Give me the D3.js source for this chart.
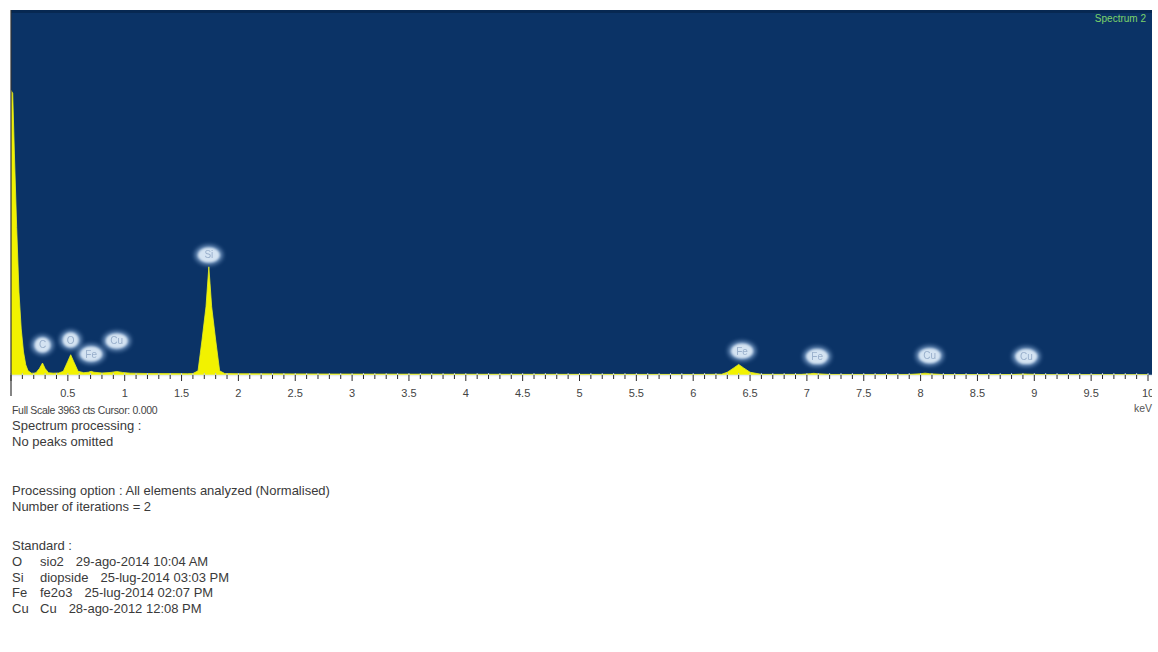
<!DOCTYPE html>
<html><head><meta charset="utf-8">
<script src="https://cdn.jsdelivr.net/npm/d3@7"></script>
<style>
html,body{margin:0;padding:0;background:#fff;}
svg{display:block;}
</style></head>
<body>
<script>
// ---------- DATA ----------
const fullScale = 3963;
const spectrumEnergy = [0.000,0.015,0.030,0.050,0.070,0.090,0.110,0.130,0.150,0.180,0.200,
  0.220,0.250,0.277,0.300,0.330,0.370,0.420,
  0.460,0.500,0.525,0.550,0.590,0.640,
  0.680,0.705,0.730,0.800,
  0.880,0.930,0.980,1.050,1.200,1.400,1.550,
  1.600,1.645,1.680,1.715,1.740,1.765,1.800,1.835,1.880,
  2.000,2.500,3.000,4.000,5.000,6.000,6.250,
  6.300,6.360,6.400,6.440,6.500,6.600,6.950,
  7.030,7.060,7.090,7.200,7.900,
  8.000,8.040,8.080,8.200,8.800,
  8.880,8.910,8.940,9.100,10.000];
const spectrumCounts = [3090,3060,2400,1600,900,500,250,110,45,20,20,
  25,70,130,70,25,20,22,
  40,150,220,150,40,25,
  30,40,30,22,
  28,38,28,20,16,15,14,
  16,45,380,740,1175,740,380,45,16,
  14,12,10,8,7,6,8,
  30,80,115,80,30,7,7,
  14,18,14,6,6,
  14,20,14,5,5,
  9,11,9,4,3];

const peakLabels   = ["C","O","Fe","Cu","Si","Fe","Fe","Cu","Cu"];
const peakEnergies = [0.277,0.525,0.705,0.930,1.740,6.430,7.090,8.080,8.930];
const peakTops     = [130,220,40,38,1175,115,18,20,11];
const labelLevels  = [326,380,228,370,1303,260,200,210,200];

const tickLabels = ["0.5","1","1.5","2","2.5","3","3.5","4","4.5","5","5.5","6","6.5","7","7.5","8","8.5","9","9.5","10"];
const tickValues = [0.5,1,1.5,2,2.5,3,3.5,4,4.5,5,5.5,6,6.5,7,7.5,8,8.5,9,9.5,10];

const infoLines = [
  "Spectrum processing :",
  "No peaks omitted",
  "Processing option : All elements analyzed (Normalised)",
  "Number of iterations = 2",
  "Standard :"
];
const stdElements = ["O","Si","Fe","Cu"];
const stdNames    = ["sio2","diopside","fe2o3","Cu"];
const stdDates    = ["29-ago-2014 10:04 AM","25-lug-2014 03:03 PM","25-lug-2014 02:07 PM","28-ago-2012 12:08 PM"];

// ---------- LAYOUT ----------
const W = 1158, H = 652;
const plot = {left: 11, top: 10, right: 1148, bottom: 375};
const infoY = [430, 446, 495, 511, 550];

const svg = d3.select("body").append("svg").attr("width", W).attr("height", H)
  .style("font-family", "'Liberation Sans', Arial, sans-serif");

const defs = svg.append("defs");
defs.append("filter").attr("id","blur").attr("x","-60%").attr("y","-60%").attr("width","220%").attr("height","220%")
  .append("feGaussianBlur").attr("stdDeviation", 2.2);
defs.append("filter").attr("id","soft").attr("x","-50%").attr("y","-50%").attr("width","200%").attr("height","200%")
  .append("feGaussianBlur").attr("stdDeviation", 0.8);
defs.append("filter").attr("id","tsoft").append("feGaussianBlur").attr("stdDeviation", 0.35);
defs.append("clipPath").attr("id","plotclip").append("rect")
  .attr("x", plot.left).attr("y", plot.top).attr("width", plot.right - plot.left + 2).attr("height", plot.bottom - plot.top);
defs.append("clipPath").attr("id","pageclip").append("rect")
  .attr("x", 0).attr("y", 0).attr("width", 1152).attr("height", H);

const x = d3.scaleLinear().domain([0, 10]).range([plot.left, plot.right]);
const y = d3.scaleLinear().domain([0, fullScale]).range([plot.bottom, plot.top]);

// background
svg.append("rect").attr("x", plot.left).attr("y", plot.top)
  .attr("width", 1152 - plot.left).attr("height", plot.bottom - plot.top)
  .attr("fill", "#0b3366");
svg.append("rect").attr("x", plot.left).attr("y", plot.top)
  .attr("width", 1152 - plot.left).attr("height", 3).attr("fill", "#072852");

// spectrum
const pts = spectrumEnergy.map((e, i) => [e, spectrumCounts[i]]);
const area = d3.area().x(d => x(d[0])).y0(plot.bottom).y1(d => y(d[1]));
svg.append("path").datum(pts).attr("d", area)
  .attr("fill", "#f2f200").attr("stroke", "#e8f020").attr("stroke-width", 0.8)
  .attr("clip-path", "url(#plotclip)");

// peak labels
const lab = svg.append("g");
peakLabels.forEach((t, i) => {
  const cx = x(peakEnergies[i]);
  const cy = y(labelLevels[i]);
  const top = y(peakTops[i]);
  lab.append("line").attr("x1", cx).attr("x2", cx).attr("y1", cy).attr("y2", Math.max(top, cy))
    .attr("stroke", "#c8daee").attr("stroke-width", 2).attr("filter", "url(#soft)");
  const rx = t.length > 1 ? 13 : 10;
  lab.append("ellipse").attr("cx", cx).attr("cy", cy).attr("rx", rx + 1).attr("ry", 10)
    .attr("fill", "#8fb0d8").attr("opacity", 0.75).attr("filter", "url(#blur)");
  lab.append("ellipse").attr("cx", cx).attr("cy", cy).attr("rx", rx - 2).attr("ry", 7.5)
    .attr("fill", "#d4e3f2").attr("filter", "url(#soft)");
  lab.append("text").attr("x", cx).attr("y", cy + 3.5).attr("text-anchor", "middle")
    .attr("font-size", 10).attr("fill", "#9ab0cc").attr("filter", "url(#tsoft)").text(t);
});

// spectrum name
svg.append("text").attr("x", 1146).attr("y", 22).attr("text-anchor", "end")
  .attr("font-size", 10).attr("fill", "#7cd36a").text("Spectrum 2");

// axis
const ax = svg.append("g").attr("clip-path", "url(#pageclip)");
ax.append("line").attr("x1", plot.left).attr("x2", 1152).attr("y1", plot.bottom + 0.5).attr("y2", plot.bottom + 0.5)
  .attr("stroke", "#e6ecf2").attr("stroke-width", 1.5);
const minor = d3.range(0, 101).map(i => i / 10);
ax.selectAll("line.mt").data(minor).join("line").attr("class", "mt")
  .attr("x1", d => x(d)).attr("x2", d => x(d))
  .attr("y1", plot.bottom).attr("y2", (d, i) => i % 5 === 0 ? plot.bottom + 6 : plot.bottom + 4)
  .attr("stroke", "#2a2a2a").attr("stroke-width", 1);
ax.selectAll("line.it").data(minor).join("line").attr("class", "it")
  .attr("x1", d => x(d)).attr("x2", d => x(d))
  .attr("y1", plot.bottom - 2).attr("y2", plot.bottom)
  .attr("stroke", "#b9c9da").attr("stroke-width", 1);
ax.selectAll("text.tl").data(tickValues).join("text").attr("class", "tl")
  .attr("x", d => x(d)).attr("y", 397).attr("text-anchor", "middle")
  .attr("font-size", 11).attr("fill", "#444").text((d, i) => tickLabels[i]);
svg.append("line").attr("x1", plot.left).attr("x2", plot.left).attr("y1", plot.top).attr("y2", 396)
  .attr("stroke", "#333").attr("stroke-width", 1.2);
svg.append("text").attr("x", 1152).attr("y", 412).attr("text-anchor", "end")
  .attr("font-size", 10.5).attr("fill", "#555").text("keV");

// info text
svg.append("text").attr("x", 12).attr("y", 414).attr("font-size", 10.5).attr("fill", "#444")
  .attr("letter-spacing", -0.3).text("Full Scale 3963 cts Cursor: 0.000");
const info = svg.append("g").attr("font-size", 13).attr("fill", "#3a3a3a");
infoLines.forEach((t, i) => {
  info.append("text").attr("x", 12).attr("y", infoY[i]).text(t);
});
stdElements.forEach((el, i) => {
  const yy = 566 + i * 15.5;
  const t = info.append("text").attr("x", 12).attr("y", yy);
  t.append("tspan").text(el);
  t.append("tspan").attr("x", 40).text(stdNames[i]);
  t.append("tspan").attr("dx", 12).text(stdDates[i]);
});
</script>
</body></html>
